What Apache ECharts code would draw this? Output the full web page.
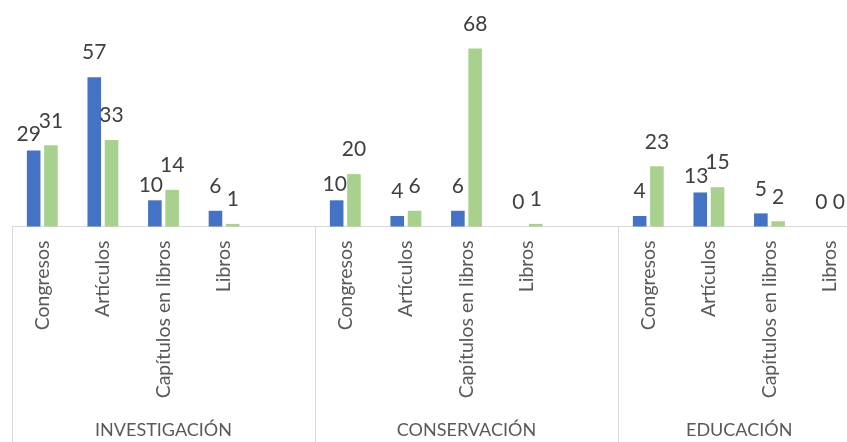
<!DOCTYPE html>
<html><head><meta charset="utf-8">
<script src="https://cdn.jsdelivr.net/npm/echarts@6/dist/echarts.min.js"></script>
<style>html,body{margin:0;padding:0;background:#fff}#c{width:847px;height:442px}</style>
</head><body><div id="c"></div>
<script>
// ---- data ----
const groups = ['INVESTIGACIÓN', 'CONSERVACIÓN', 'EDUCACIÓN'];
const types = ['Congresos', 'Artículos', 'Capítulos en libros', 'Libros'];
const blueValues = [[29, 57, 10, 6], [10, 4, 6, 0], [4, 13, 5, 0]];
const greenValues = [[31, 33, 14, 1], [20, 6, 68, 1], [23, 15, 2, 0]];
// label nudges seen in the reference (series, group, type, dx, dy)
const labelNudges = [[0, 0, 0, -5, 8], [0, 0, 2, -4, 9], [0, 1, 0, -2, 8], [0, 2, 1, -4, 8]];

// ---- build category slots (blank slot between groups) ----
const cats = [];
const slotIndex = [];
const groupStart = [];
const groupLen = [];
groups.forEach((g, gi) => {
  groupStart.push(cats.length);
  types.forEach((t, ti) => { slotIndex.push([gi, ti]); cats.push(t); });
  if (gi < groups.length - 1) { slotIndex.push(null); cats.push(''); }
  groupLen.push(cats.length - groupStart[gi]);
});
function buildSeries(vals, si) {
  return slotIndex.map(s => {
    if (!s) return null;
    const v = vals[s[0]][s[1]];
    const n = labelNudges.find(a => a[0] === si && a[1] === s[0] && a[2] === s[1]);
    if (n) return { value: v, label: { offset: [n[3], n[4]] } };
    return v;
  });
}
// group axis: half-slot positions
const half = [];
for (let i = 0; i <= cats.length * 2; i++) half.push({ value: '', sep: false });
groups.forEach((g, gi) => {
  half[groupStart[gi] * 2 + groupLen[gi]].value = g;
  half[groupStart[gi] * 2].sep = true;
});
const halfNames = half.map(h => h.value);
const sepIdx = half.map(h => h.sep);

const font = 'Lato';
const chart = echarts.init(document.getElementById('c'), null, { renderer: 'canvas' });
const labelCfg = {
  show: true, position: 'top', distance: 14, fontFamily: font, fontSize: 21, color: '#404040',
  formatter: p => (p.value == null ? '' : String(p.value))
};
chart.setOption({
  animation: false,
  backgroundColor: '#ffffff',
  grid: { left: 12, top: 17, width: 848.4, bottom: 215.5, containLabel: false, outerBoundsMode: 'none' },
  xAxis: [
    {
      type: 'category', data: cats, position: 'bottom',
      axisLine: { show: true, lineStyle: { color: '#D9D9D9', width: 1 } },
      axisTick: { show: false },
      axisLabel: { rotate: 90, margin: 14, interval: 0, fontFamily: font, fontSize: 19.5, color: '#595959' }
    },
    {
      type: 'category', data: halfNames, position: 'bottom', boundaryGap: false, offset: 0,
      axisLine: { show: false },
      axisTick: { show: true, length: 216, interval: (i) => sepIdx[i], lineStyle: { color: '#D9D9D9', width: 1 } },
      axisLabel: { interval: (i, v) => v !== '', margin: 195, fontFamily: font, fontSize: 18, color: '#595959' }
    }
  ],
  yAxis: { type: 'value', min: 0, max: 80, show: false, splitLine: { show: false } },
  series: [
    { type: 'bar', data: buildSeries(blueValues, 0), barWidth: 13.6, barGap: '27%', itemStyle: { color: '#4472C4' }, label: labelCfg },
    { type: 'bar', data: buildSeries(greenValues, 1), barWidth: 13.6, barGap: '27%', itemStyle: { color: '#A9D18E' }, label: labelCfg }
  ]
});
</script></body></html>
